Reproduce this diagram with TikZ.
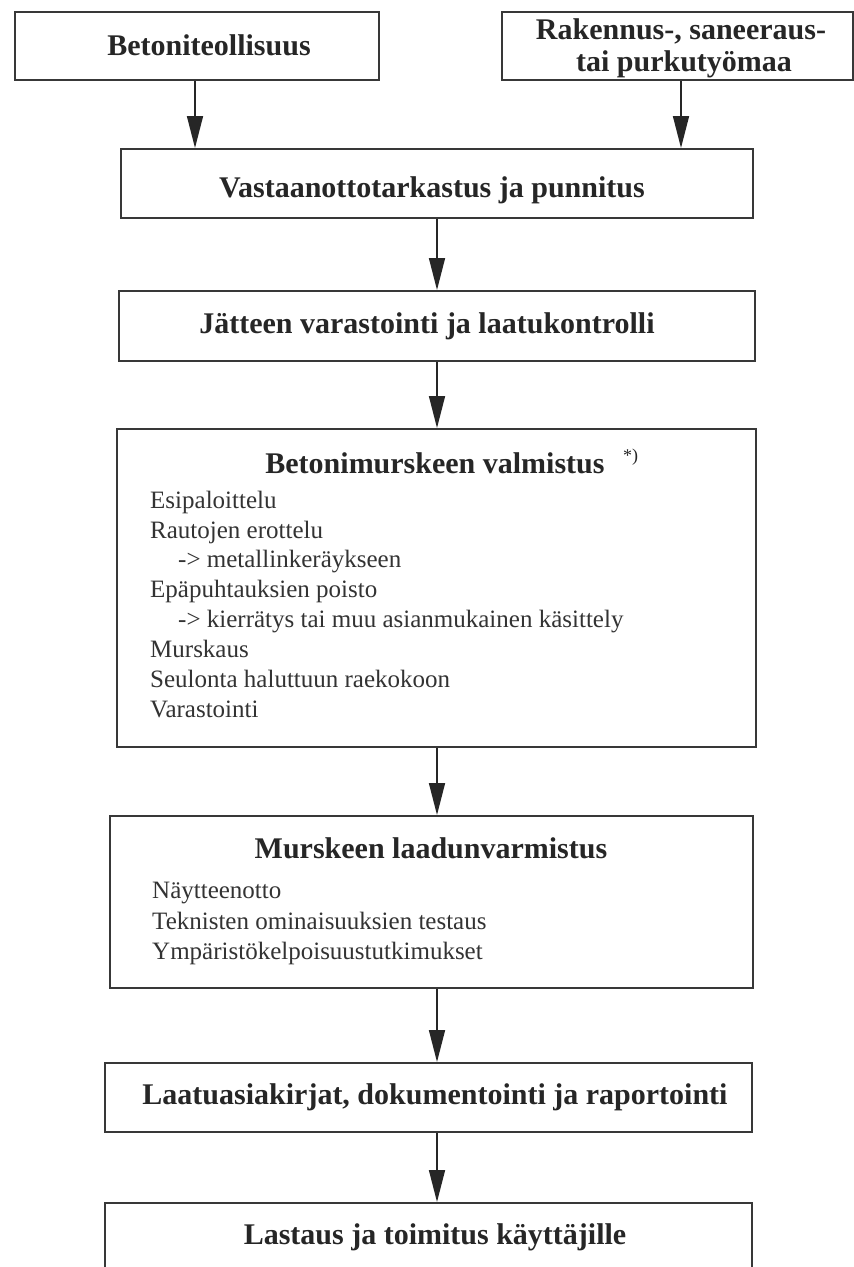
\documentclass[tikz,border=0pt]{standalone}
\usepackage{fontspec}
\setmainfont{Liberation Serif}
\usetikzlibrary{arrows.meta}
\begin{document}
\begin{tikzpicture}[x=1pt,y=-1pt,
  box/.style={draw=black!78, line width=2pt, rectangle, inner sep=0pt},
  ttl/.style={font=\fontsize{30}{34}\selectfont\bfseries, text=black!85, anchor=base, inner sep=0pt},
  itm/.style={font=\fontsize{25}{30}\selectfont, text=black!80, anchor=base west, inner sep=0pt},
  arr/.style={draw=black!85, line width=1.6pt, -{Triangle[length=32pt,width=16pt]}}]
\useasboundingbox[fill=white] (0,0) rectangle (854,1267);

% boxes
\node[box, minimum width=364pt, minimum height=68pt] (b1) at (197,46) {};
\node[box, minimum width=351pt, minimum height=68pt] (b2) at (677,46) {};
\node[box, minimum width=632pt, minimum height=69pt] (b3) at (437,183.5) {};
\node[box, minimum width=636pt, minimum height=70pt] (b4) at (437,326) {};
\node[box, minimum width=639pt, minimum height=318pt] (b5) at (436.5,588) {};
\node[box, minimum width=643pt, minimum height=172pt] (b6) at (431.5,902) {};
\node[box, minimum width=647pt, minimum height=69pt] (b7) at (428.5,1097.5) {};
\node[box, minimum width=647pt, minimum height=100pt] (b8) at (428.5,1253) {};

% texts
\node[ttl] (t1) at (209,55) {Betoniteollisuus};
\node[ttl] (t2a) at (681,39.5) {Rakennus-, saneeraus-};
\node[ttl] (t2b) at (684,71.5) {tai purkutyömaa};
\node[ttl] (t3) at (432,197) {Vastaanottotarkastus ja punnitus};
\node[ttl] (t4) at (427,333) {Jätteen varastointi ja laatukontrolli};
\node[ttl] (t5) at (435,473) {Betonimurskeen valmistus};
\node[anchor=base west, inner sep=0pt, font=\fontsize{18}{20}\selectfont, text=black!85] (t5s) at (623,461) {*)};
\node[itm] (i1) at (150,508) {Esipaloittelu};
\node[itm] (i2) at (150,538) {Rautojen erottelu};
\node[itm] (i3) at (178,567) {-> metallinkeräykseen};
\node[itm] (i4) at (150,597) {Epäpuhtauksien poisto};
\node[itm] (i5) at (178,627) {-> kierrätys tai muu asianmukainen käsittely};
\node[itm] (i6) at (150,657) {Murskaus};
\node[itm] (i7) at (150,687) {Seulonta haluttuun raekokoon};
\node[itm] (i8) at (150,717) {Varastointi};
\node[ttl] (t6) at (431,858) {Murskeen laadunvarmistus};
\node[itm] (j1) at (152,898) {Näytteenotto};
\node[itm] (j2) at (152,929) {Teknisten ominaisuuksien testaus};
\node[itm] (j3) at (152,959) {Ympäristökelpoisuustutkimukset};
\node[ttl] (t7) at (435,1104) {Laatuasiakirjat, dokumentointi ja raportointi};
\node[ttl] (t8) at (435,1244) {Lastaus ja toimitus käyttäjille};

% connector columns
\coordinate (cA) at (195,0);
\coordinate (cB) at (681,0);
\coordinate (cM) at (437,0);

\draw[arr] (cA |- b1.south) -- (cA |- b3.north);
\draw[arr] (cB |- b2.south) -- (cB |- b3.north);
\draw[arr] (cM |- b3.south) -- (cM |- b4.north);
\draw[arr] (cM |- b4.south) -- (cM |- b5.north);
\draw[arr] (cM |- b5.south) -- (cM |- b6.north);
\draw[arr] (cM |- b6.south) -- (cM |- b7.north);
\draw[arr] (cM |- b7.south) -- (cM |- b8.north);
\end{tikzpicture}
\end{document}
